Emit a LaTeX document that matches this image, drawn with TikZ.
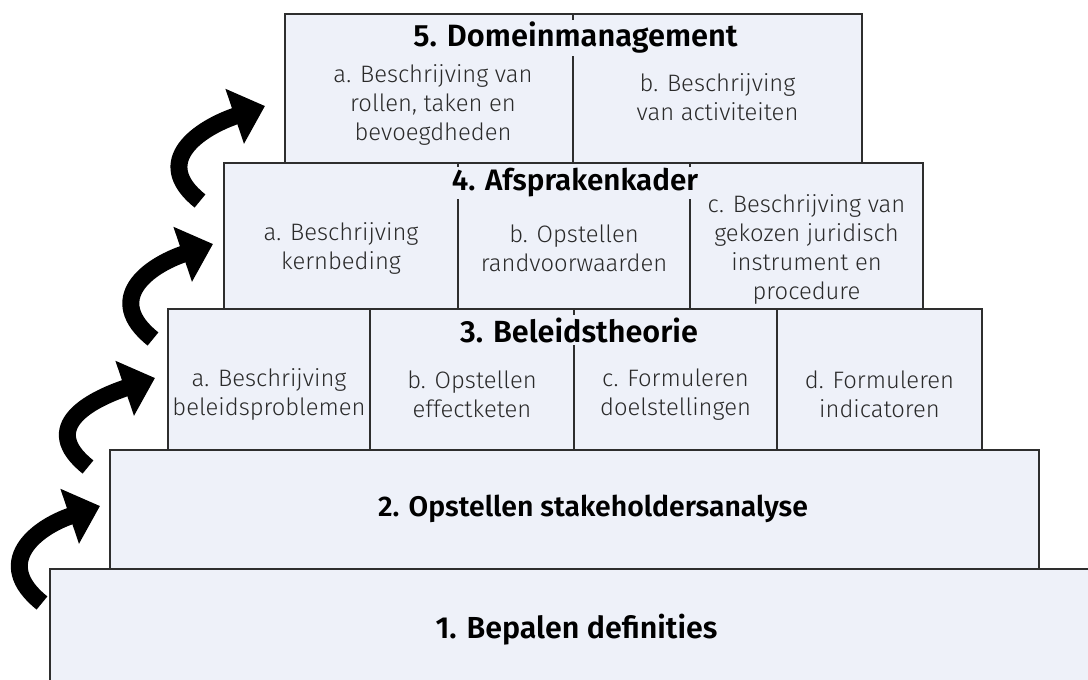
\documentclass[tikz,border=0pt]{standalone}
\usepackage{fontspec}
\setmainfont{Fira Sans Light}[BoldFont={Fira Sans SemiBold}]
\usetikzlibrary{arrows.meta}
\definecolor{cellfill}{HTML}{EEF1F9}
\definecolor{cellline}{HTML}{2E2E2E}
\definecolor{bodytext}{HTML}{2A2A2A}
\tikzset{
  cell/.style={draw=cellline, fill=cellfill, line width=0.6pt, inner sep=0pt},
  body/.style={align=center, text=bodytext, font=\fontsize{11.9}{14.5}\selectfont},
  title/.style={fill=cellfill, inner sep=1pt, font=\fontsize{#1}{18}\selectfont\bfseries},
  title/.default=14.8,
  stepup/.style={line width=8.5pt, -{Triangle[length=16pt,width=28pt]}},
}
\begin{document}
\begin{tikzpicture}[x=0.5pt,y=-0.5pt]
\useasboundingbox (0,0) rectangle (1088,680);
\clip (0,0) rectangle (1088,680);
% Layer 1
\node[cell, minimum width=525pt, minimum height=65.5pt] (c1) at (575,634.5) {};
\node[title=15.2] (h1) at (576.5,630) {1. Bepalen definities};
% Layer 2
\node[cell, minimum width=464.5pt, minimum height=59.5pt] (c2) at (574.5,509.5) {};
\node[title=14.2] (h2) at (593,509) {2. Opstellen stakeholdersanalyse};
% Layer 3
\node[cell, minimum width=101pt, minimum height=70.5pt] (c3a) at (269,379.5) {};
\node[cell, minimum width=102pt, minimum height=70.5pt] (c3b) at (472,379.5) {};
\node[cell, minimum width=101.5pt, minimum height=70.5pt] (c3c) at (675.5,379.5) {};
\node[cell, minimum width=102.5pt, minimum height=70.5pt] (c3d) at (879.5,379.5) {};
\node[body] (t3a) at (269,394.5) {a. Beschrijving\\beleidsproblemen};
\node[body] (t3b) at (472,394.5) {b. Opstellen\\effectketen};
\node[body] (t3c) at (675.5,394.5) {c. Formuleren\\doelstellingen};
\node[body] (t3d) at (879.5,394.5) {d. Formuleren\\indicatoren};
\node[title=15.3] (h3) at (579,330) {3. Beleidstheorie};
% Layer 4
\node[cell, minimum width=117pt, minimum height=73pt] (c4a) at (341,236) {};
\node[cell, minimum width=116pt, minimum height=73pt] (c4b) at (574,236) {};
\node[cell, minimum width=116.5pt, minimum height=73pt] (c4c) at (806.5,236) {};
\node[body] (t4a) at (341,248.5) {a. Beschrijving\\kernbeding};
\node[body] (t4b) at (574,248.5) {b. Opstellen\\randvoorwaarden};
\node[body] (t4c) at (806.5,249.5) {c. Beschrijving van\\gekozen juridisch\\instrument en\\procedure};
\node[title] (h4) at (575,183) {4. Afsprakenkader};
% Layer 5
\node[cell, minimum width=144pt, minimum height=74.5pt] (c5a) at (429,88.5) {};
\node[cell, minimum width=144.5pt, minimum height=74.5pt] (c5b) at (717.5,88.5) {};
\node[body] (t5a) at (433,105) {a. Beschrijving van\\rollen, taken en\\bevoegdheden};
\node[body] (t5b) at (717.5,97.5) {b. Beschrijving\\van activiteiten};
\node[title=15.4] (h5) at (575.5,38) {5. Domeinmanagement};
% Curved arrows up the steps
\coordinate (a1) at (42,603);  \coordinate (b1) at (100,506);
\coordinate (a2) at (88,467);  \coordinate (b2) at (155,378);
\coordinate (a3) at (153,339); \coordinate (b3) at (213,244);
\coordinate (a4) at (200,201); \coordinate (b4) at (265,106);
\draw[stepup] (a1) .. controls +(-50,-40) and +(-65,22) .. (b1);
\draw[stepup] (a2) .. controls +(-50,-40) and +(-65,22) .. (b2);
\draw[stepup] (a3) .. controls +(-50,-40) and +(-65,22) .. (b3);
\draw[stepup] (a4) .. controls +(-50,-40) and +(-65,22) .. (b4);
\end{tikzpicture}
\end{document}
